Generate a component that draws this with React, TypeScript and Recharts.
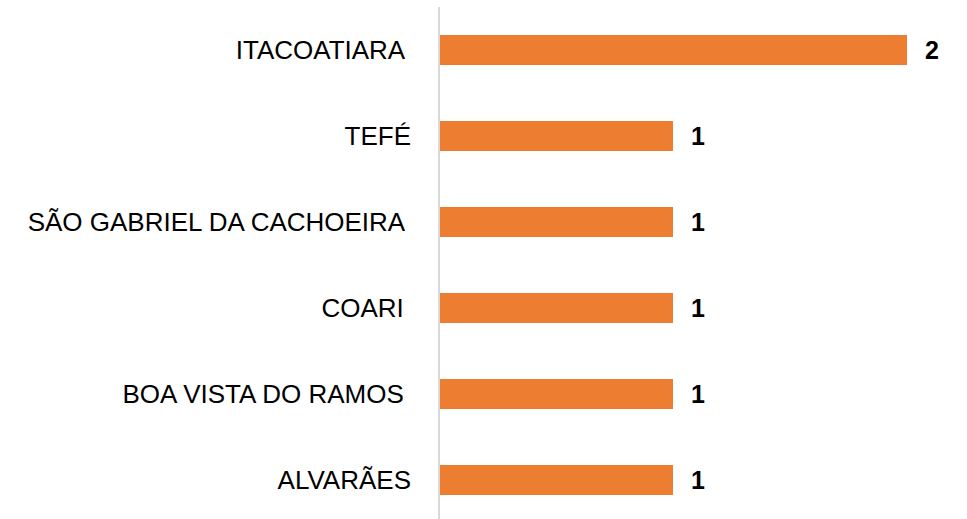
import { BarChart, Bar, XAxis, YAxis, LabelList } from "recharts";

const cities = [
  "ITACOATIARA ",
  "TEFÉ",
  "SÃO GABRIEL DA CACHOEIRA ",
  "COARI ",
  "BOA VISTA DO RAMOS ",
  "ALVARÃES",
];
const counts = [2, 1, 1, 1, 1, 1];

const data = cities.map((city, i) => ({ city, count: counts[i] }));

function CityTick(props: any) {
  const { x, y, payload } = props;
  return (
    <text
      x={x}
      y={y}
      dy="0.355em"
      textAnchor="end"
      xmlSpace="preserve"
      style={{ whiteSpace: "pre" }}
      fontFamily="Liberation Sans"
      fontSize={26}
      fill="#000"
    >
      {payload.value}
    </text>
  );
}

export default function App() {
  return (
    <div
      style={{
        position: "absolute",
        left: 0,
        top: 0,
        width: 967,
        height: 519,
        overflow: "hidden",
        background: "#fff",
      }}
    >
      <BarChart
        width={967}
        height={527}
        data={data}
        layout="vertical"
        margin={{ top: 7, right: 60, bottom: 4, left: 0 }}
        barCategoryGap={28}
      >
        <XAxis type="number" domain={[0, 2]} hide />
        <YAxis
          type="category"
          dataKey="city"
          width={439}
          axisLine={{ stroke: "#d9d9d9", strokeWidth: 2 }}
          tickLine={false}
          tickMargin={22}
          tick={<CityTick />}
        />
        <Bar
          dataKey="count"
          fill="#ED7D31"
          barSize={30}
          isAnimationActive={false}
        >
          <LabelList
            dataKey="count"
            position="right"
            offset={18}
            style={{
              fontFamily: "Liberation Sans",
              fontSize: 25,
              fontWeight: "bold",
              fill: "#000",
            }}
          />
        </Bar>
      </BarChart>
    </div>
  );
}
